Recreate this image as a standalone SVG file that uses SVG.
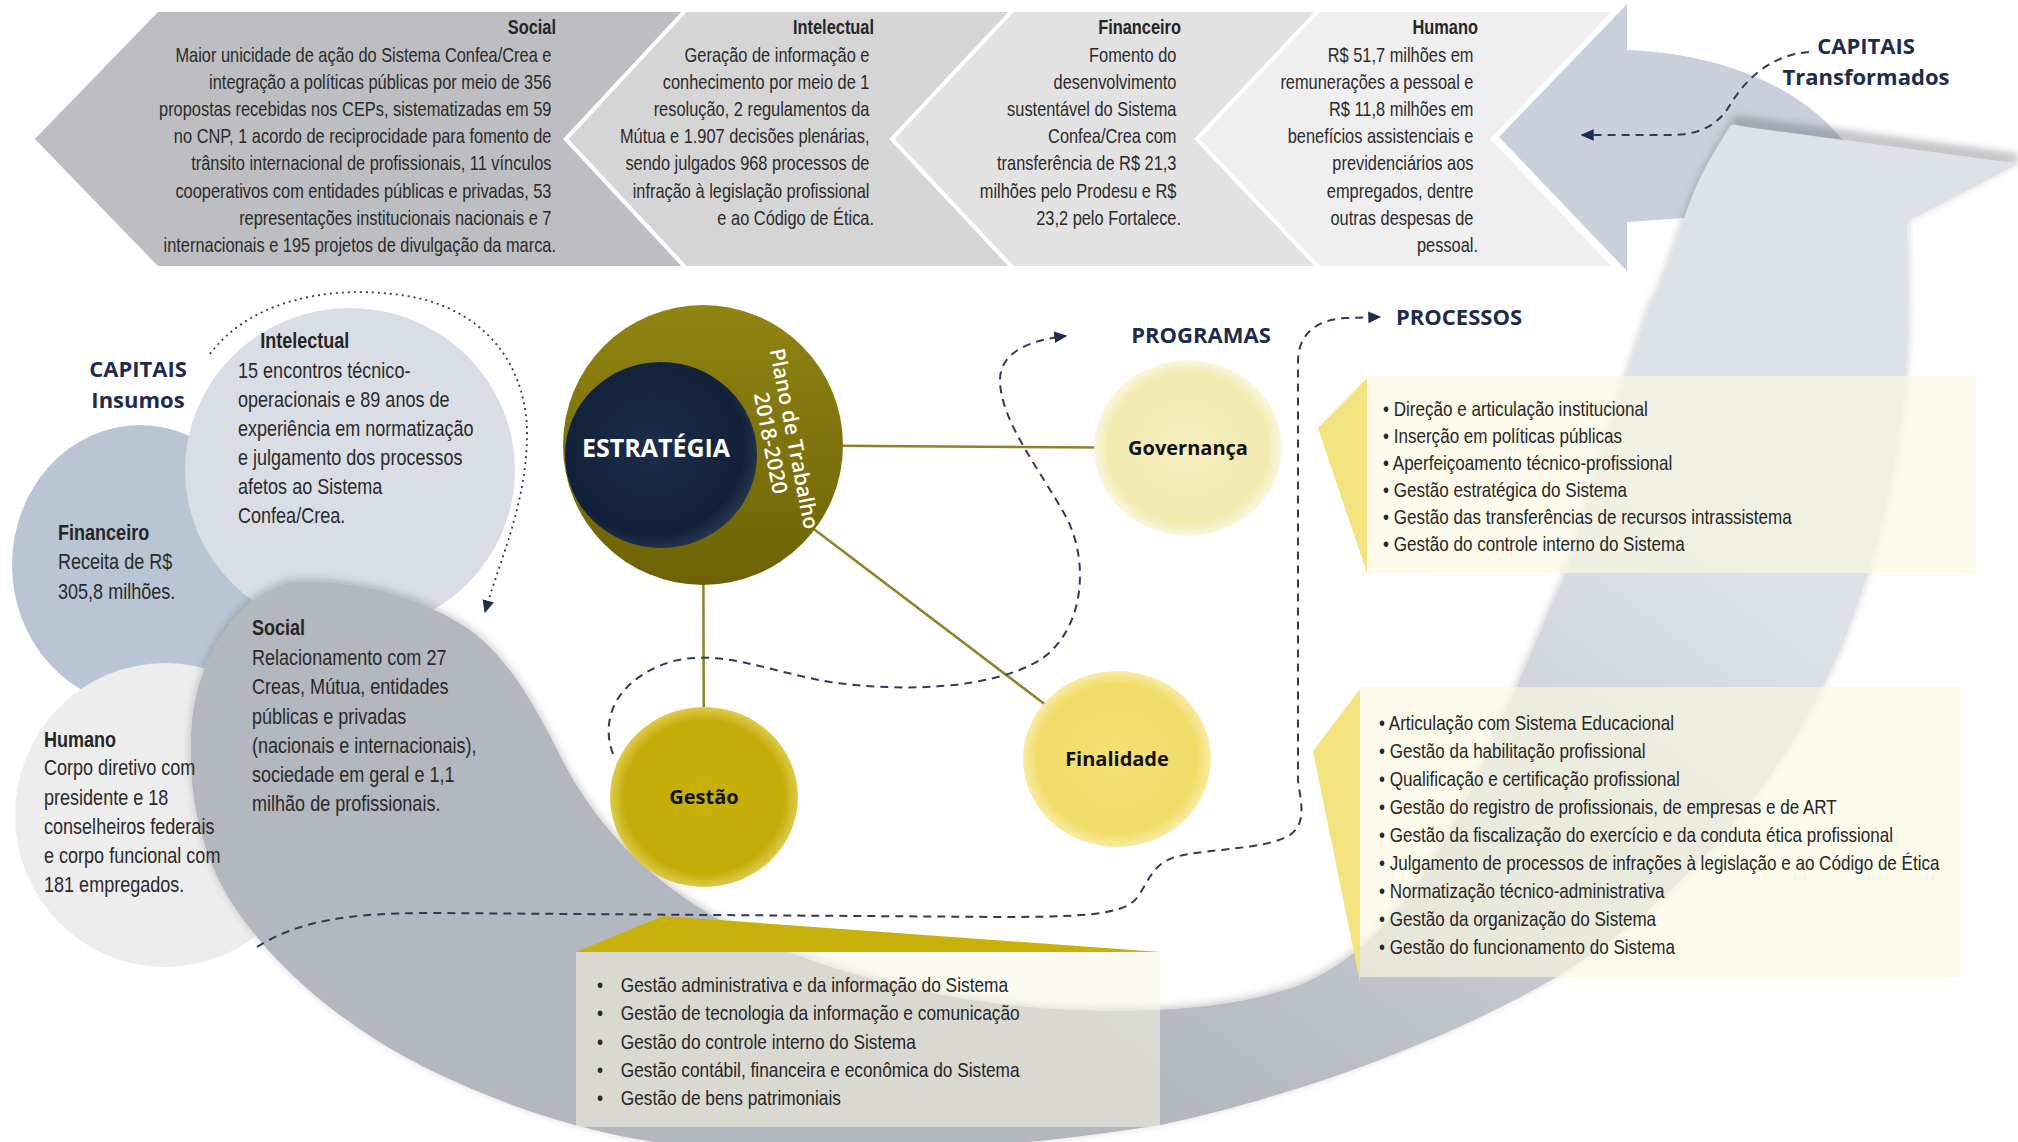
<svg xmlns="http://www.w3.org/2000/svg" width="2018" height="1142" viewBox="0 0 2018 1142">
<defs>
<style>
.hd{font-family:'Liberation Sans',Arial,sans-serif;font-weight:700;font-size:20px;fill:#262626}
.bd{font-family:'Liberation Sans',Arial,sans-serif;font-weight:400;font-size:20px;fill:#2a2a2a}
.lb{font-size:22px}
.lh{font-size:22px}
.li{font-family:'Liberation Sans',Arial,sans-serif;font-size:20.8px;fill:#262626}
.lg{font-size:21.1px}
.ti{font-family:'Open Sans','Noto Sans',sans-serif;font-weight:700;font-size:22px;fill:#1d2c4c}
.pg{font-family:'Open Sans','Noto Sans',sans-serif;font-weight:700;font-size:20px;fill:#111;text-anchor:middle}
.chev{stroke:#fff;stroke-width:4;stroke-linejoin:miter}
.dash{fill:none;stroke:#2d3b58;stroke-width:2;stroke-dasharray:8 6}
.dot{fill:none;stroke:#2d3b58;stroke-width:1.8;stroke-dasharray:2 4}
.link{stroke:#8d8327;stroke-width:2.5;fill:none}
.box{fill:#fbf9e0;opacity:0.65}
.ptr{fill:#f3e37f}
</style>
<marker id="arr" viewBox="0 0 10 10" refX="9" refY="5" markerWidth="13" markerHeight="13" markerUnits="userSpaceOnUse" orient="auto"><path d="M0,0.5 L10,5 L0,9.5 Z" fill="#1d2c4c"/></marker>
<linearGradient id="band" gradientUnits="userSpaceOnUse" x1="1200" y1="1100" x2="1650" y2="500"><stop offset="0" stop-color="#b3b7bf"/><stop offset="1" stop-color="#dde1e8"/></linearGradient>
<linearGradient id="olive" x1="0" y1="0" x2="0" y2="1"><stop offset="0" stop-color="#908411"/><stop offset="1" stop-color="#6d6307"/></linearGradient>
<radialGradient id="navy" cx="0.45" cy="0.45" r="0.6"><stop offset="0" stop-color="#1b2d4c"/><stop offset="0.8" stop-color="#122139"/><stop offset="1" stop-color="#2c3d5a"/></radialGradient>
<radialGradient id="gGov" cx="0.5" cy="0.5" r="0.5"><stop offset="0" stop-color="#f6efbf"/><stop offset="0.85" stop-color="#f3eab0"/><stop offset="1" stop-color="#fbf7df"/></radialGradient>
<radialGradient id="gFin" cx="0.5" cy="0.5" r="0.5"><stop offset="0" stop-color="#f4e074"/><stop offset="0.85" stop-color="#f1dc68"/><stop offset="1" stop-color="#f8eca4"/></radialGradient>
<radialGradient id="gGes" cx="0.5" cy="0.5" r="0.5"><stop offset="0" stop-color="#c9b10b"/><stop offset="0.85" stop-color="#c4ac08"/><stop offset="1" stop-color="#ddcb4c"/></radialGradient>
<filter id="blur" x="-20%" y="-50%" width="140%" height="200%"><feGaussianBlur stdDeviation="4"/></filter>
<filter id="sh" x="-10%" y="-10%" width="120%" height="120%"><feDropShadow dx="0" dy="-2" stdDeviation="4" flood-color="#000" flood-opacity="0.22"/></filter>
</defs>
<rect width="2018" height="1142" fill="#fff"/>

<!-- left capital circles -->
<g id="cap-financeiro">
<ellipse cx="140" cy="565" rx="128" ry="140" fill="#b9c4d4"/>
</g>
<g id="cap-humano">
<ellipse cx="165" cy="815" rx="150" ry="152" fill="#ededed"/>
</g>
<g id="cap-intelectual">
<ellipse cx="350" cy="470" rx="165" ry="162" fill="#d9dee6"/>
</g>

<!-- top-right blue shape -->
<g id="cycle-head">
<path d="M1627,4 L1499,137 L1627,271 L1627,222 L1685,218 L1733,124 L1850,150 C1810,92 1730,54 1627,50 Z" fill="#c9d0dc"/>
<path d="M1733,119 L2018,158" stroke="#6b6f78" stroke-width="5" fill="none" filter="url(#blur)" opacity="0.7"/>
</g>

<!-- big swoosh: Social capital + cycle band -->
<g id="cap-social">
<path filter="url(#sh)" fill="url(#band)" d="M290,582 C240,595 200,650 192,720 C186,790 200,860 240,915 C290,985 370,1045 456,1082 C540,1120 620,1140 700,1148 C850,1160 1000,1150 1161,1125 C1300,1095 1450,1040 1560,975 C1680,900 1780,790 1840,650 C1890,530 1910,400 1908,300 L1907,222 L2018,164 L1731,125 C1715,150 1700,175 1690,202 C1672,250 1662,290 1650,304 C1635,350 1625,380 1617,406 C1600,460 1590,490 1572,560 C1530,650 1490,760 1446,838 C1410,900 1370,955 1300,985 C1230,1010 1150,1012 1077,1010 C960,1006 820,975 720,920 C650,880 600,830 565,765 C535,705 510,660 470,630 C420,595 350,578 290,582 Z"/>
</g>

<!-- top band chevrons -->
<g id="out-social">
<polygon class="chev" points="157,10 686,10 566,139 686,268 157,268 32,139" fill="#bcbec1"/>
<g transform="translate(556,0) scale(0.82,1)" text-anchor="end">
<text class="hd" x="0" y="34">Social</text>
<text class="bd">
<tspan x="0" y="62">Maior unicidade de ação do Sistema Confea/Crea e</tspan>
<tspan x="0" y="89">integração a políticas públicas por meio de 356</tspan>
<tspan x="0" y="116">propostas recebidas nos CEPs, sistematizadas em 59</tspan>
<tspan x="0" y="143">no CNP, 1 acordo de reciprocidade para fomento de</tspan>
<tspan x="0" y="170">trânsito internacional de profissionais, 11 vínculos</tspan>
<tspan x="0" y="198">cooperativos com entidades públicas e privadas, 53</tspan>
<tspan x="0" y="225">representações institucionais nacionais e 7</tspan>
<tspan x="0" y="252">internacionais e 195 projetos de divulgação da marca.</tspan>
</text>
</g>
</g>
<g id="out-intelectual">
<polygon class="chev" points="686,10 1013,10 892,139 1013,268 686,268 566,139" fill="#d5d5d6"/>
<g transform="translate(874,0) scale(0.82,1)" text-anchor="end">
<text class="hd" x="0" y="34">Intelectual</text>
<text class="bd">
<tspan x="0" y="62">Geração de informação e</tspan>
<tspan x="0" y="89">conhecimento por meio de 1</tspan>
<tspan x="0" y="116">resolução, 2 regulamentos da</tspan>
<tspan x="0" y="143">Mútua e 1.907 decisões plenárias,</tspan>
<tspan x="0" y="170">sendo julgados 968 processos de</tspan>
<tspan x="0" y="198">infração à legislação profissional</tspan>
<tspan x="0" y="225">e ao Código de Ética.</tspan>
</text>
</g>
</g>
<g id="out-financeiro">
<polygon class="chev" points="1013,10 1319,10 1197,139 1319,268 1013,268 892,139" fill="#e3e2e2"/>
<g transform="translate(1181,0) scale(0.82,1)" text-anchor="end">
<text class="hd" x="0" y="34">Financeiro</text>
<text class="bd">
<tspan x="0" y="62">Fomento do</tspan>
<tspan x="0" y="89">desenvolvimento</tspan>
<tspan x="0" y="116">sustentável do Sistema</tspan>
<tspan x="0" y="143">Confea/Crea com</tspan>
<tspan x="0" y="170">transferência de R$ 21,3</tspan>
<tspan x="0" y="198">milhões pelo Prodesu e R$</tspan>
<tspan x="0" y="225">23,2 pelo Fortalece.</tspan>
</text>
</g>
</g>
<g id="out-humano">
<polygon class="chev" points="1319,10 1616,10 1493,139 1616,268 1319,268 1197,139" fill="#efefef"/>
<g transform="translate(1478,0) scale(0.82,1)" text-anchor="end">
<text class="hd" x="0" y="34">Humano</text>
<text class="bd">
<tspan x="0" y="62">R$ 51,7 milhões em</tspan>
<tspan x="0" y="89">remunerações a pessoal e</tspan>
<tspan x="0" y="116">R$ 11,8 milhões em</tspan>
<tspan x="0" y="143">benefícios assistenciais e</tspan>
<tspan x="0" y="170">previdenciários aos</tspan>
<tspan x="0" y="198">empregados, dentre</tspan>
<tspan x="0" y="225">outras despesas de</tspan>
<tspan x="0" y="252">pessoal.</tspan>
</text>
</g>
</g>

<!-- titles -->
<g id="title-transformados">
<text class="ti" x="1866" y="54" text-anchor="middle">CAPITAIS</text>
<text class="ti" x="1866" y="85" text-anchor="middle">Transformados</text>
</g>
<g id="title-insumos">
<text class="ti" x="138" y="377" text-anchor="middle">CAPITAIS</text>
<text class="ti" x="138" y="408" text-anchor="middle">Insumos</text>
</g>
<g id="title-programas"><text class="ti" x="1201" y="343" text-anchor="middle">PROGRAMAS</text></g>
<g id="title-processos"><text class="ti" x="1396" y="325">PROCESSOS</text></g>

<!-- left capital texts -->
<g id="txt-intelectual">
<g transform="translate(238,0) scale(0.82,1)">
<text class="hd lh" x="27" y="348">Intelectual</text>
<text class="bd lb">
<tspan x="0" y="378">15 encontros técnico-</tspan>
<tspan x="0" y="407">operacionais e 89 anos de</tspan>
<tspan x="0" y="436">experiência em normatização</tspan>
<tspan x="0" y="465">e julgamento dos processos</tspan>
<tspan x="0" y="494">afetos ao Sistema</tspan>
<tspan x="0" y="523">Confea/Crea.</tspan>
</text>
</g>
</g>
<g id="txt-financeiro">
<g transform="translate(58,0) scale(0.82,1)">
<text class="hd lh" x="0" y="540">Financeiro</text>
<text class="bd lb"><tspan x="0" y="569">Receita de R$</tspan><tspan x="0" y="599">305,8 milhões.</tspan></text>
</g>
</g>
<g id="txt-social">
<g transform="translate(252,0) scale(0.82,1)">
<text class="hd lh" x="0" y="635">Social</text>
<text class="bd lb">
<tspan x="0" y="665">Relacionamento com 27</tspan>
<tspan x="0" y="694">Creas, Mútua, entidades</tspan>
<tspan x="0" y="724">públicas e privadas</tspan>
<tspan x="0" y="753">(nacionais e internacionais),</tspan>
<tspan x="0" y="782">sociedade em geral e 1,1</tspan>
<tspan x="0" y="811">milhão de profissionais.</tspan>
</text>
</g>
</g>
<g id="txt-humano">
<g transform="translate(44,0) scale(0.82,1)">
<text class="hd lh" x="0" y="747">Humano</text>
<text class="bd lb">
<tspan x="0" y="775">Corpo diretivo com</tspan>
<tspan x="0" y="805">presidente e 18</tspan>
<tspan x="0" y="834">conselheiros federais</tspan>
<tspan x="0" y="863">e corpo funcional com</tspan>
<tspan x="0" y="892">181 empregados.</tspan>
</text>
</g>
</g>

<!-- strategy links -->
<g id="links">
<line class="link" x1="703" y1="445" x2="1188" y2="448"/>
<line class="link" x1="703" y1="445" x2="1117" y2="759"/>
<line class="link" x1="703" y1="445" x2="704" y2="797"/>
</g>

<!-- connectors -->
<g id="connectors">
<path class="dash" d="M1809,52 C1770,55 1745,80 1730,105 C1718,125 1700,135 1670,135 L1582,135" marker-end="url(#arr)"/>
<path class="dash" d="M257,947 C300,920 350,913 431,913 L1000,917 C1080,917 1120,915 1135,900 C1148,885 1150,865 1175,857 C1210,848 1265,850 1290,835 C1308,822 1300,800 1298,780 L1298,362 C1298,335 1315,320 1345,318 L1380,317" marker-end="url(#arr)"/>
<path class="dash" d="M613,754 C600,720 615,680 670,662 C720,648 770,672 830,682 C900,692 990,690 1040,660 C1085,630 1090,560 1065,515 C1040,470 1000,420 1000,380 C1000,352 1030,340 1066,336" marker-end="url(#arr)"/>
<path class="dot" d="M210,354 C250,300 330,285 400,295 C480,305 525,360 527,430 C528,500 500,560 485,612" marker-end="url(#arr)"/>
</g>

<!-- strategy -->
<g id="estrategia">
<circle cx="703" cy="445" r="140" fill="url(#olive)"/>
<ellipse cx="661" cy="455" rx="96" ry="93" fill="url(#navy)"/>
<text x="656" y="457" text-anchor="middle" style="font-family:'Open Sans','Noto Sans',sans-serif;font-weight:700;font-size:25px;fill:#fff">ESTRATÉGIA</text>
<g transform="translate(787,440) rotate(79)" style="font-family:'Open Sans','Noto Sans',sans-serif;font-size:21px;font-weight:600;fill:#fff" text-anchor="middle">
<text x="0" y="0">Plano de Trabalho</text>
<text x="0" y="24">2018-2020</text>
</g>
</g>

<!-- programs -->
<g id="prog-governanca">
<ellipse cx="1188" cy="448" rx="94" ry="88" fill="url(#gGov)"/>
<text class="pg" x="1188" y="455">Governança</text>
</g>
<g id="prog-finalidade">
<ellipse cx="1117" cy="759" rx="94" ry="88" fill="url(#gFin)"/>
<text class="pg" x="1117" y="766">Finalidade</text>
</g>
<g id="prog-gestao">
<ellipse cx="704" cy="797" rx="94" ry="90" fill="url(#gGes)"/>
<text class="pg" x="704" y="804">Gestão</text>
</g>

<!-- process boxes -->
<g id="proc-governanca">
<polygon class="ptr" points="1367,378 1318,428 1367,573"/>
<rect class="box" x="1367" y="376" width="609" height="197"/>
<g transform="translate(1383,0) scale(0.82,1)">
<text class="li">
<tspan x="0" y="416">• Direção e articulação institucional</tspan>
<tspan x="0" y="443">• Inserção em políticas públicas</tspan>
<tspan x="0" y="470">• Aperfeiçoamento técnico-profissional</tspan>
<tspan x="0" y="497">• Gestão estratégica do Sistema</tspan>
<tspan x="0" y="524">• Gestão das transferências de recursos intrassistema</tspan>
<tspan x="0" y="551">• Gestão do controle interno do Sistema</tspan>
</text>
</g>
</g>
<g id="proc-finalidade">
<polygon class="ptr" points="1360,689 1313,751 1360,982"/>
<rect class="box" x="1360" y="687" width="602" height="290"/>
<g transform="translate(1379,0) scale(0.82,1)">
<text class="li">
<tspan x="0" y="730">• Articulação com Sistema Educacional</tspan>
<tspan x="0" y="758">• Gestão da habilitação profissional</tspan>
<tspan x="0" y="786">• Qualificação e certificação profissional</tspan>
<tspan x="0" y="814">• Gestão do registro de profissionais, de empresas e de ART</tspan>
<tspan x="0" y="842">• Gestão da fiscalização do exercício e da conduta ética profissional</tspan>
<tspan x="0" y="870">• Julgamento de processos de infrações à legislação e ao Código de Ética</tspan>
<tspan x="0" y="898">• Normatização técnico-administrativa</tspan>
<tspan x="0" y="926">• Gestão da organização do Sistema</tspan>
<tspan x="0" y="954">• Gestão do funcionamento do Sistema</tspan>
</text>
</g>
</g>
<g id="proc-gestao">
<polygon points="576,952 663,916 1160,952" fill="#c8b10b"/>
<rect x="576" y="952" width="584" height="175" fill="#f7f6e2" opacity="0.55"/>
<g transform="translate(597,0) scale(0.82,1)">
<text class="li lg">
<tspan x="0" y="992">•</tspan><tspan x="29" y="992">Gestão administrativa e da informação do Sistema</tspan>
<tspan x="0" y="1020">•</tspan><tspan x="29" y="1020">Gestão de tecnologia da informação e comunicação</tspan>
<tspan x="0" y="1049">•</tspan><tspan x="29" y="1049">Gestão do controle interno do Sistema</tspan>
<tspan x="0" y="1077">•</tspan><tspan x="29" y="1077">Gestão contábil, financeira e econômica do Sistema</tspan>
<tspan x="0" y="1105">•</tspan><tspan x="29" y="1105">Gestão de bens patrimoniais</tspan>
</text>
</g>
</g>
</svg>
